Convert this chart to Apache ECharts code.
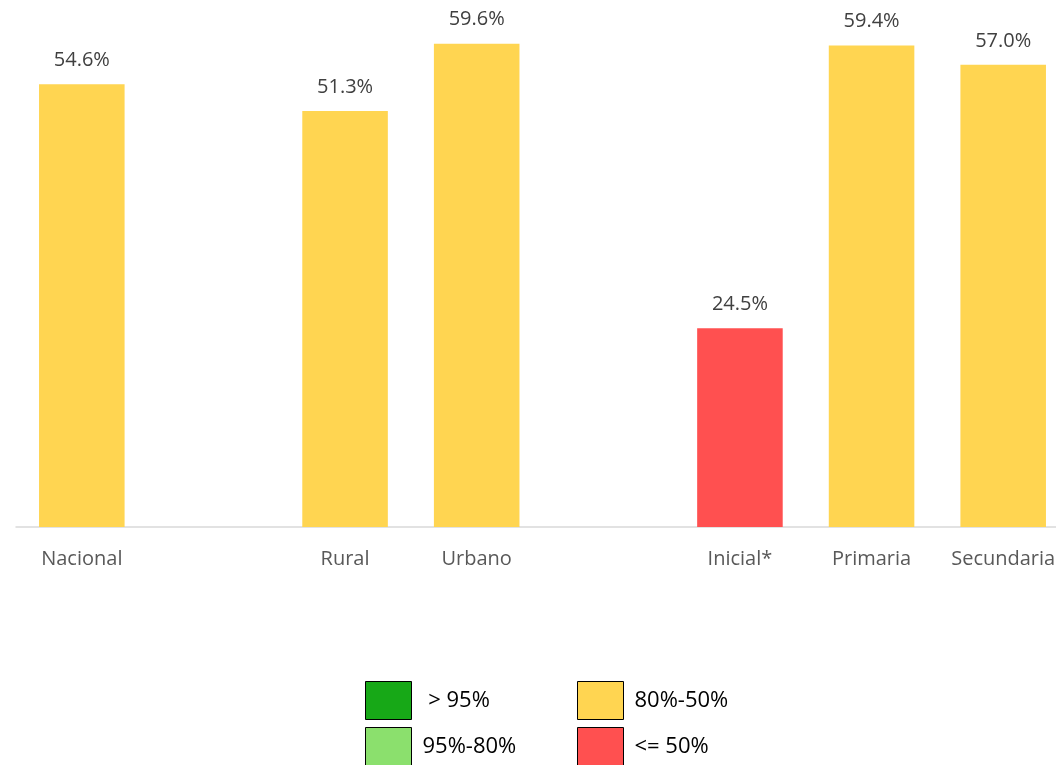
<!DOCTYPE html>
<html>
<head>
<meta charset="utf-8">
<script src="https://cdn.jsdelivr.net/npm/echarts@6/dist/echarts.min.js"></script>
<style>
  html, body { margin: 0; padding: 0; background: #fff; }
  #chart { width: 1056px; height: 765px; }
</style>
</head>
<body>
<div id="chart"></div>
<script>
// Categories (blank slots separate the groups)
const categories = ['Nacional', ' ', 'Rural', 'Urbano', '  ', 'Inicial*', 'Primaria', 'Secundaria'];
// Percentage per category
const values = [54.6, null, 51.3, 59.6, null, 24.5, 59.4, 57.0];
// Colour bands (legend)
const bandNames = [' > 95%', '95%-80%', '80%-50%', '<= 50%'];
const bandColors = ['#17a817', '#8be06d', '#ffd551', '#ff5050'];

function bandIndex(v) {
  if (v > 95) return 0;
  if (v > 80) return 1;
  if (v > 50) return 2;
  return 3;
}

const barData = values.map(v => v == null ? null : {
  value: v,
  itemStyle: { color: bandColors[bandIndex(v)] }
});

const legendSeries = bandNames.map((name, i) => ({
  name: name,
  type: 'bar',
  stack: 'all',
  data: [],
  itemStyle: { color: bandColors[i] }
}));

const fontFamily = '"Open Sans", "Noto Sans", sans-serif';

const legendCommon = {
  orient: 'vertical',
  top: 681,
  height: 140,
  icon: 'rect',
  itemWidth: 46,
  itemHeight: 38,
  itemGap: 7,
  padding: 0,
  selectedMode: false,
  itemStyle: { borderColor: '#000', borderWidth: 1 },
  textStyle: { fontFamily: fontFamily, fontSize: 22, color: '#000', padding: [0, 0, 0, 6] }
};

const chart = echarts.init(document.getElementById('chart'));
chart.setOption({
  animation: false,
  backgroundColor: '#fff',
  grid: { left: 16, width: 1053, top: 0, height: 527, outerBoundsMode: 'none', containLabel: false },
  legend: [
    Object.assign({}, legendCommon, { left: 365, data: [bandNames[0], bandNames[1]] }),
    Object.assign({}, legendCommon, { left: 577, data: [bandNames[2], bandNames[3]] })
  ],
  xAxis: {
    type: 'category',
    data: categories,
    axisLine: { lineStyle: { color: '#d9d9d9', width: 1.5 } },
    axisTick: { show: false },
    axisLabel: { fontFamily: fontFamily, fontSize: 20, color: '#595959', margin: 22, interval: 0 }
  },
  yAxis: {
    type: 'value',
    min: 0,
    max: 65,
    show: false
  },
  series: [
    {
      type: 'bar',
      stack: 'all',
      barWidth: '65%',
      data: barData,
      label: {
        show: true,
        position: 'top',
        distance: 14,
        fontFamily: fontFamily,
        fontSize: 20,
        color: '#404040',
        formatter: p => p.value.toFixed(1) + '%'
      }
    }
  ].concat(legendSeries)
});
</script>
</body>
</html>
